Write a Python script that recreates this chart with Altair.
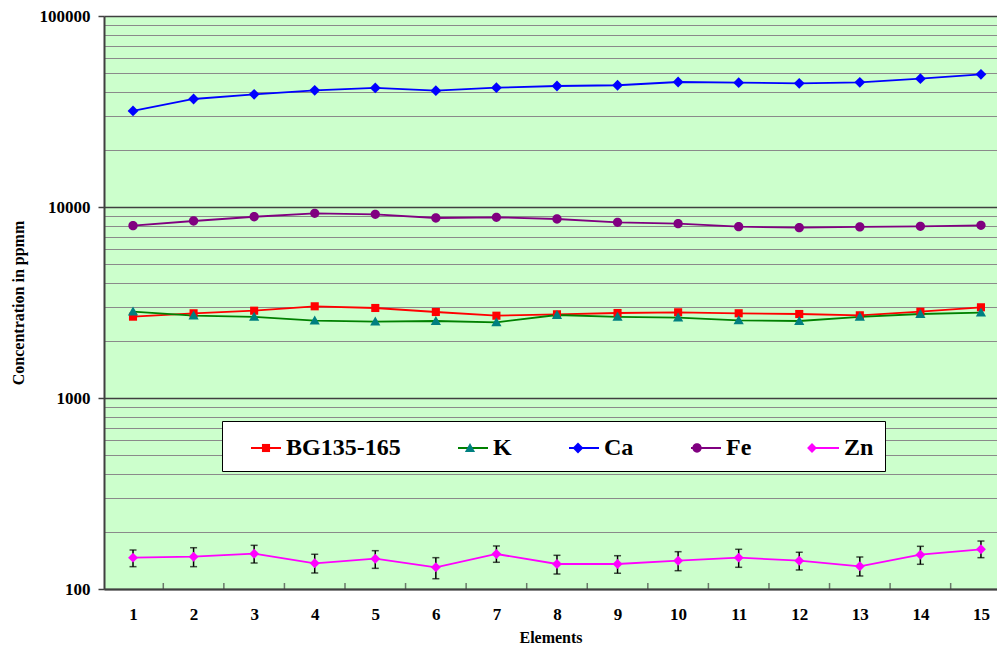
import altair as alt
import pandas as pd

elements = list(range(1, 16))
series_names = ["BG135-165", "K", "Ca", "Fe", "Zn"]

bg = [2666, 2777, 2865, 3021, 2960, 2820, 2697, 2743, 2786, 2810, 2777, 2753, 2710, 2830, 2985]
k = [2830, 2697, 2656, 2540, 2509, 2530, 2490, 2720, 2656, 2633, 2552, 2530, 2656, 2753, 2797]
ca = [31850, 36770, 38900, 40830, 42000, 40650, 42150, 43000, 43400, 45130, 44770, 44400, 44950, 46960, 49530]
fe = [7980, 8445, 8890, 9270, 9155, 8758, 8830, 8652, 8318, 8178, 7886, 7790, 7860, 7925, 8020]
zn = [145.9, 147.6, 153.0, 136.3, 144.1, 129.9, 152.5, 135.2, 135.2, 140.7, 145.9, 140.7, 131.5, 151.2, 161.4]
zn_hi = [160.0, 164.5, 169.3, 152.0, 158.7, 145.9, 168.0, 150.1, 149.4, 156.8, 161.4, 155.7, 147.1, 167.3, 178.3]
zn_lo = [130.9, 130.9, 136.8, 121.3, 128.3, 113.2, 138.0, 119.8, 120.9, 124.7, 129.9, 125.8, 117.0, 134.7, 145.9]

line_colors = ["#FF0000", "#008000", "#0000FF", "#800080", "#FF00FF"]
marker_colors = ["#FF0000", "#008080", "#0000FF", "#800080", "#FF00FF"]
# marker outlines in unit coordinates (square, triangle, diamond, circle, diamond)
marker_paths = [
    "M-0.27,-0.27H0.27V0.27H-0.27Z",
    "M0,-0.34L0.34,0.26L-0.34,0.26Z",
    "M0,-0.36L0.36,0L0,0.36L-0.36,0Z",
    "M-0.31,0A0.31,0.31,0,1,1,0.31,0A0.31,0.31,0,1,1,-0.31,0Z",
    "M0,-0.33L0.33,0L0,0.33L-0.33,0Z",
]

y_tick_values = [m * 10 ** e for e in (2, 3, 4) for m in range(1, 10)] + [100000]
x_boundaries = [i + 0.5 for i in range(1, 15)]

rows = []
for name, vals in zip(series_names, [bg, k, ca, fe, zn]):
    for e, v in zip(elements, vals):
        rows.append({"Element": e, "Series": name, "Value": v})
df = pd.DataFrame(rows)
err = pd.DataFrame({"Element": elements, "Lo": zn_lo, "Hi": zn_hi})
bounds = pd.DataFrame({"Element": x_boundaries})

FONT = "Liberation Serif"
PLOT_W, PLOT_H = 893, 573
decade_test = "indexof([100, 1000, 10000, 100000], datum.value) >= 0"

x_scale = alt.Scale(domain=[0.521, 15.265], nice=False, zero=False)
y_scale = alt.Scale(type="log", domain=[100, 100000], nice=False)

y_axis = alt.Axis(
    values=y_tick_values,
    format="d",
    labelExpr=decade_test + " ? datum.label : ''",
    title="Concentration in ppmm",
    grid=True,
    gridColor={"condition": {"test": decade_test, "value": "#404040"}, "value": "#8a8a8a"},
    gridWidth={"condition": {"test": decade_test, "value": 1.6}, "value": 1.2},
    tickColor={"condition": {"test": decade_test, "value": "#404040"}, "value": "transparent"},
    tickSize=6,
    tickWidth=1.5,
    domainColor="#404040",
    domainWidth=2,
    labelFontSize=17,
    labelPadding=8,
    labelOverlap=False,
    titleFontSize=16,
    titlePadding=13,
)

x_axis = alt.Axis(
    values=elements,
    format="d",
    ticks=False,
    grid=False,
    labelFontSize=17,
    labelPadding=17,
    labelFlush=False,
    labelOverlap=False,
    title="Elements",
    titleFontSize=16,
    titlePadding=7,
    domainColor="#404040",
    domainWidth=2,
)

legend_common = dict(
    title=" ",
    titleOrient="left",
    titleFontSize=10,
    titlePadding=17,
    orient="none",
    legendX=118,
    legendY=405,
    direction="horizontal",
    columns=5,
    columnPadding=53,
    padding=11,
    labelFont=FONT,
    labelFontSize=24,
    labelFontWeight="bold",
    labelLimit=300,
    labelOffset=4,
    symbolSize=900,
    symbolStrokeWidth=2,
)

# legend A: the line segments and the visible labels, in a white box
legend_lines = alt.Legend(
    fillColor="white",
    strokeColor="black",
    labelColor="black",
    symbolType="stroke",
    zindex=0,
    **legend_common,
)

# legend B: identical layout, only the markers, drawn on top of legend A
legend_marks = alt.Legend(
    labelColor="transparent",
    symbolStrokeColor="transparent",
    symbolOpacity=1,
    zindex=1,
    **legend_common,
)

base = alt.Chart(df)

lines = base.mark_line(strokeWidth=1.8).encode(
    x=alt.X("Element:Q", scale=x_scale, axis=x_axis),
    y=alt.Y("Value:Q", scale=y_scale, axis=y_axis),
    stroke=alt.Stroke("Series:N", sort=series_names, scale=alt.Scale(range=line_colors), legend=legend_lines),
)

# small inward tick marks between the categories on the bottom edge
cat_ticks = alt.Chart(bounds).mark_tick(orient="vertical", color="#404040", thickness=1.5, size=6).encode(
    x=alt.X("Element:Q", scale=x_scale),
    y=alt.value(PLOT_H - 3),
)

err_rules = alt.Chart(err).mark_rule(color="black", strokeWidth=1.5).encode(
    x=alt.X("Element:Q", scale=x_scale),
    y=alt.Y("Lo:Q", scale=y_scale),
    y2="Hi:Q",
)
err_lo = alt.Chart(err).mark_tick(color="black", orient="horizontal", size=7, thickness=1.5).encode(
    x=alt.X("Element:Q", scale=x_scale),
    y=alt.Y("Lo:Q", scale=y_scale),
)
err_hi = alt.Chart(err).mark_tick(color="black", orient="horizontal", size=7, thickness=1.5).encode(
    x=alt.X("Element:Q", scale=x_scale),
    y=alt.Y("Hi:Q", scale=y_scale),
)

points = base.mark_point(filled=True, opacity=1, size=900).encode(
    x=alt.X("Element:Q", scale=x_scale),
    y=alt.Y("Value:Q", scale=y_scale),
    color=alt.Color("Series:N", scale=alt.Scale(domain=series_names, range=marker_colors), legend=legend_marks),
    shape=alt.Shape("Series:N", scale=alt.Scale(domain=series_names, range=marker_paths), legend=legend_marks),
)

chart = (
    alt.layer(lines, cat_ticks, err_rules, err_lo, err_hi, points)
    .properties(
        width=PLOT_W,
        height=PLOT_H,
        padding={"left": 96, "top": 8, "right": 0, "bottom": 56},
        autosize=alt.AutoSizeParams(type="none"),
        background="white",
    )
    .configure_view(fill="#CCFFCC", stroke="transparent")
    .configure_axis(
        labelFont=FONT,
        labelFontWeight="bold",
        labelColor="black",
        titleFont=FONT,
        titleFontWeight="bold",
        titleColor="black",
    )
)

chart.save("out.html", embed_options={"renderer": "svg", "actions": False})
